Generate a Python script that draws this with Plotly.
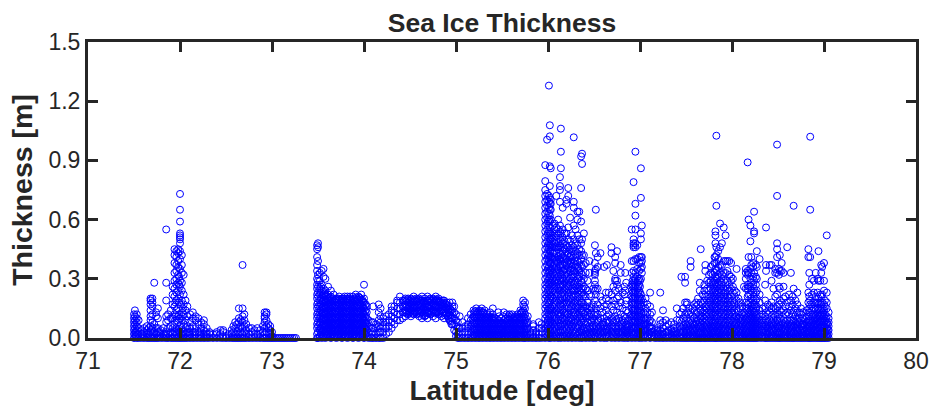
import plotly.graph_objects as go

# Readings: each row is (latitude, [thicknesses read at that latitude])
west_floe = [
(71.50,[.00,.02,.04,.06,.08,.10,.12]),(71.51,[.01,.03,.05,.07,.09,.11,.14]),(71.53,[.00,.02,.04,.06,.08,.10,.12]),
(71.55,[.00,.02,.05,.09]),(71.58,[.00,.02,.04]),(71.61,[.00,.03,.05]),(71.64,[.00,.02,.04,.06]),(71.66,[.00,.02,.05]),
(71.68,[.00,.03,.06,.09,.11,.14,.17,.19,.20]),(71.70,[.00,.02,.05,.08,.12,.16,.18,.20]),(71.72,[.00,.03,.07,.28]),
(71.74,[.00,.02,.05,.11,.13]),(71.76,[.00,.03,.05,.10,.15]),(71.79,[.00,.02,.04]),(71.82,[.00,.02,.05]),
(71.85,[.00,.03,.08,.11,.19,.28,.55]),(71.87,[.00,.02,.05,.09,.12]),(71.90,[.00,.03,.06,.10,.14]),(71.92,[.00,.02,.05,.10,.17,.22,.26]),
(71.94,[.00,.03,.07,.12,.16,.21,.25,.29,.33,.38,.42,.45]),(71.96,[.00,.02,.05,.09,.14,.19,.23,.27,.30,.34,.37,.41,.44]),
(71.98,[.00,.04,.08,.11,.15,.20,.24,.28,.32,.36,.39,.43,.45]),(72.00,[.00,.03,.06,.10,.17,.22,.26,.29,.35,.40,.44,.48,.50,.51,.52,.53,.59,.65,.73]),
(72.02,[.00,.02,.05,.09,.13,.19,.24,.28,.33,.37,.42]),(72.04,[.00,.03,.07,.12,.17,.22,.32]),(72.06,[.00,.02,.05,.09,.14,.19]),
(72.08,[.00,.03,.06,.11,.16]),(72.11,[.00,.02,.05,.08,.12]),(72.14,[.00,.03,.06,.10,.13]),(72.17,[.00,.02,.05,.09,.11]),
(72.20,[.00,.03,.07,.10]),(72.23,[.00,.02,.05,.08]),(72.26,[.00,.02,.04,.07,.09]),(72.29,[.00,.02,.05]),(72.32,[.00,.02,.03]),
(72.36,[.00,.02]),(72.40,[.00,.02,.03]),(72.44,[.00,.02,.04]),(72.47,[.00,.03,.04]),(72.50,[.00,.01]),(72.53,[.00,.02]),
(72.56,[.00,.02,.04]),(72.58,[.00,.03,.06]),(72.60,[.00,.02,.05,.08]),(72.62,[.00,.03,.07]),(72.64,[.00,.02,.05,.08,.10,.15]),
(72.66,[.00,.03,.06,.09]),(72.68,[.00,.02,.05,.08,.11,.15,.37]),(72.70,[.00,.03,.06,.09,.12]),(72.72,[.00,.02,.04,.07]),
(72.75,[.00,.02,.05]),(72.78,[.00,.03,.05]),(72.81,[.00,.02,.04]),(72.84,[.00,.02,.05]),(72.87,[.00,.02,.04]),(72.90,[.00,.03,.06]),
(72.92,[.00,.02,.05,.08,.10,.11,.13]),(72.94,[.00,.03,.06,.09,.12,.13]),(72.96,[.00,.02,.05,.07]),(72.98,[.00,.02,.04,.06]),
(73.00,[.00,.01,.03]),(73.02,[.00]),(73.04,[.00]),(73.06,[.00]),(73.08,[.00]),(73.10,[.00]),(73.12,[.00]),(73.14,[.00]),(73.16,[.00]),
(73.18,[.00]),(73.20,[.00]),(73.22,[.00]),(73.24,[.00]),(73.26,[.00]),
]

arch_floe = [
(73.49,[.00,.02,.05,.07,.10,.12,.15,.17,.20,.22,.25,.27,.30,.34,.37,.41,.45,.47]),
(73.50,[.00,.03,.06,.08,.11,.13,.16,.18,.21,.23,.26,.29,.32,.39,.46,.48]),
(73.52,[.01,.04,.07,.10,.13,.16,.19,.22,.25,.29,.33]),(73.54,[.00,.03,.06,.09,.12,.15,.18,.21,.24,.27,.34]),
(73.56,[.01,.04,.07,.10,.13,.16,.19,.22,.25,.31,.35]),(73.58,[.00,.03,.06,.09,.12,.15,.18,.21,.24,.30]),
(73.61,[.01,.04,.07,.10,.13,.16,.19,.22,.26]),(73.64,[.00,.03,.06,.09,.12,.15,.18,.21,.24]),(73.67,[.01,.04,.07,.10,.13,.16,.19,.22]),
(73.70,[.00,.03,.06,.09,.12,.15,.18,.20]),(73.73,[.01,.04,.07,.10,.13,.16,.19,.21]),(73.76,[.00,.03,.06,.09,.12,.15,.18,.20]),
(73.79,[.01,.04,.07,.10,.13,.16,.19,.21]),(73.82,[.00,.03,.06,.09,.12,.15,.18,.20,.21]),(73.85,[.01,.04,.07,.10,.13,.16,.19,.21]),
(73.88,[.00,.03,.06,.09,.12,.15,.18,.21]),(73.91,[.01,.04,.07,.10,.13,.16,.19,.22]),(73.94,[.00,.03,.06,.09,.12,.15,.18,.21]),
(73.97,[.01,.04,.07,.10,.13,.16,.19,.22]),(74.00,[.00,.03,.06,.09,.12,.15,.18,.20,.27]),(74.03,[.01,.04,.07,.10,.13,.16]),
(74.05,[.00,.03,.06,.09]),(74.08,[.00,.02,.05,.08]),(74.10,[.00,.03,.05,.08,.16]),(74.13,[.00,.02,.05,.07]),(74.16,[.00,.03,.06,.09,.13,.17]),
(74.18,[.00,.03,.05,.08,.11,.15]),(74.21,[.00,.03,.06,.08,.10]),(74.24,[.02,.05,.08,.11]),(74.27,[.03,.06,.09,.12]),(74.30,[.05,.08,.11,.14,.16]),
(74.33,[.07,.10,.13,.16]),(74.36,[.09,.12,.15,.18,.19]),(74.39,[.09,.12,.15,.18,.21]),(74.42,[.10,.13,.16,.19]),(74.45,[.11,.14,.17,.20]),
(74.48,[.12,.15,.18,.20]),(74.51,[.11,.14,.17,.20]),(74.54,[.12,.15,.18,.21]),(74.57,[.12,.15,.18,.20]),(74.60,[.11,.14,.17,.20]),
(74.63,[.10,.13,.16,.19,.21]),(74.66,[.11,.14,.17,.20]),(74.69,[.10,.13,.16,.19,.21]),(74.72,[.12,.15,.18,.20]),(74.75,[.11,.14,.17,.20]),
(74.78,[.10,.13,.16,.19,.21]),(74.81,[.12,.15,.18,.20]),(74.84,[.11,.14,.17,.19]),(74.87,[.10,.13,.16,.19]),(74.90,[.12,.15,.18]),
(74.93,[.09,.12,.15,.18]),(74.96,[.07,.10,.13,.16,.18]),(74.98,[.04,.07,.10,.13,.16]),(75.00,[.01,.03,.06,.09,.12]),
(75.02,[.00,.02,.05,.08]),(75.04,[.00,.03,.05,.11]),(75.07,[.00,.02,.05,.08]),(75.10,[.00,.03,.06]),(75.13,[.00,.02,.05,.07,.10]),
(75.16,[.00,.03,.06,.09,.12]),(75.19,[.00,.02,.05,.08,.11,.14]),(75.22,[.00,.03,.06,.09,.12,.15]),(75.25,[.00,.02,.05,.08,.11,.14]),
(75.28,[.00,.03,.06,.09,.12,.15]),(75.31,[.00,.02,.05,.08,.11,.14]),(75.34,[.00,.03,.06,.09,.12]),(75.37,[.00,.02,.05,.08,.11,.13]),
(75.40,[.00,.03,.06,.09,.12,.15]),(75.43,[.00,.02,.05,.08,.10]),(75.46,[.00,.03,.06,.09,.13]),(75.49,[.00,.02,.05,.07,.10]),
(75.52,[.00,.03,.06,.09,.13]),(75.55,[.00,.02,.05,.08,.12]),(75.58,[.00,.03,.06,.09,.12]),(75.61,[.00,.02,.05,.08,.12]),
(75.64,[.00,.03,.06,.09,.11]),(75.67,[.00,.02,.05,.08,.11,.12]),(75.70,[.00,.03,.06,.09,.12,.14]),(75.73,[.00,.02,.05,.08,.11,.14,.17,.19]),
(75.75,[.00,.03,.06,.09,.12,.15,.18]),(75.78,[.00,.02,.05,.08,.11]),(75.81,[.00,.02,.03]),(75.84,[.00,.02,.04,.06,.07]),
(75.87,[.00,.02,.03]),(75.90,[.00,.02,.05,.08]),(75.93,[.00,.03,.05,.07]),
]

central_ridge = [
(75.97,[.00,.02,.05,.07,.10,.12,.15,.17,.20,.22,.25,.27,.30,.33,.36,.39,.42,.45,.48,.51,.54,.57,.60,.63,.66,.69,.72,.75,.795,.876]),
(75.99,[.01,.03,.06,.08,.11,.13,.16,.18,.21,.23,.26,.28,.31,.34,.37,.40,.43,.46,.49,.52,.55,.58,.61,.64,.67,.70,.73,1.005]),
(76.01,[.00,.02,.05,.07,.10,.12,.15,.17,.20,.22,.25,.27,.30,.33,.36,.39,.42,.45,.48,.51,.54,.57,.60,.63,.66,.69,.72,1.279]),
(76.02,[.01,.04,.08,.11,.14,.18,.21,.24,.28,.31,.34,.38,.41,.44,.47,.50,.53,.56,.59,.62,.65,.68,.71,.77,.87,1.022,1.078]),
(76.03,[.00,.03,.06,.09,.12,.15,.19,.23,.26,.29,.32,.35,.38,.41,.44,.47,.50,.53,.60,.65,.68,.70,.86]),
(76.05,[.01,.04,.07,.10,.13,.16,.20,.24,.27,.30,.33,.36,.40,.43,.46,.49,.52,.57]),
(76.07,[.00,.03,.06,.09,.12,.15,.18,.22,.25,.28,.32,.35,.38,.41,.44,.48,.51,.55,.58]),
(76.09,[.01,.04,.07,.10,.14,.17,.20,.23,.26,.30,.33,.36,.39,.43,.46,.50,.53,.56,.72]),
(76.11,[.00,.03,.06,.09,.12,.15,.18,.22,.25,.28,.31,.35,.38,.41,.45,.48,.52,.55,.60]),
(76.13,[.01,.04,.07,.11,.14,.17,.20,.24,.27,.30,.33,.37,.40,.43,.47,.50,.54,.57,.69,.75,.77,.815]),
(76.14,[.00,.03,.06,.09,.12,.16,.19,.22,.26,.29,.32,.36,.39,.42,.46,.49,.53,.86,.944,1.061]),
(76.16,[.01,.04,.07,.10,.14,.17,.20,.23,.27,.30,.34,.37,.41,.44,.48,.51,.55,.66]),
(76.18,[.00,.03,.06,.09,.12,.15,.19,.22,.25,.28,.32,.35,.38,.42,.45,.49,.53]),
(76.20,[.01,.04,.07,.10,.13,.17,.20,.24,.27,.30,.33,.37,.40,.44,.47,.53,.68,.70]),
(76.22,[.00,.03,.06,.09,.12,.15,.19,.22,.26,.29,.32,.36,.39,.43,.46,.50,.56,.72,.76]),
(76.24,[.01,.04,.07,.10,.14,.17,.20,.23,.27,.30,.34,.38,.41,.45,.49,.61]),
(76.26,[.00,.03,.06,.09,.13,.16,.19,.22,.25,.29,.32,.36,.40,.44,.47,.52]),
(76.28,[.01,.04,.07,.11,.14,.17,.21,.24,.27,.31,.34,.38,.42,.46,.50,.57,.66,.69,1.017]),
(76.30,[.00,.03,.06,.09,.12,.16,.19,.22,.26,.29,.33,.37,.41,.44,.48,.55]),
(76.32,[.01,.05,.08,.11,.15,.18,.21,.25,.28,.32,.36,.39,.43,.47,.52,.60,.64]),
(76.34,[.00,.03,.07,.10,.13,.17,.20,.24,.27,.31,.34,.38,.42,.45,.50,.64]),
(76.36,[.01,.04,.08,.11,.15,.18,.22,.25,.29,.33,.37,.40,.44,.48,.59,.76,.92]),
(76.37,[.00,.03,.06,.10,.14,.18,.23,.28,.32,.36,.42,.50,.882,.934]),
(76.39,[.01,.04,.08,.12,.17,.22,.26,.30,.37,.42,.53]),
(76.41,[.00,.03,.07,.11,.16,.21,.25,.33,.38]),(76.43,[.01,.04,.08,.13,.18,.24,.29]),(76.45,[.00,.03,.06,.11,.16,.22,.33,.39]),
(76.47,[.01,.04,.08,.12,.15,.21]),(76.49,[.00,.03,.06,.10,.17,.25]),(76.51,[.01,.04,.08,.13,.19,.24,.27,.29,.32,.33,.34,.38,.47]),
(76.52,[.00,.03,.06,.11,.15,.22,.25,.35,.43,.65]),(76.54,[.01,.04,.08,.12,.17,.25,.36,.41]),(76.57,[.00,.03,.06,.10,.15,.21,.43]),
(76.59,[.01,.04,.07,.13,.19]),(76.61,[.00,.03,.06,.10,.16,.36]),(76.63,[.01,.04,.08,.14,.20,.23]),(76.64,[.00,.03,.06,.11,.17,.37]),
(76.66,[.01,.04,.08,.12,.19,.23]),(76.69,[.00,.03,.06,.10,.16,.22,.43,.46]),(76.71,[.01,.04,.08,.14,.19,.26,.34]),(76.73,[.00,.03,.06,.11,.17,.24,.29,.30,.38,.41]),
(76.75,[.01,.04,.08,.13,.20,.27,.29,.44]),(76.77,[.00,.03,.06,.10,.16,.21,.25]),(76.79,[.01,.04,.07,.12,.18,.37,.33]),(76.81,[.00,.03,.06,.09,.15,.23]),
(76.83,[.01,.04,.08,.11,.22,.26]),(76.84,[.00,.03,.06,.10,.17,.24,.33]),(76.85,[.01,.04,.07,.14,.19,.28]),(76.87,[.00,.03,.06,.09,.13]),
(76.89,[.01,.04,.07,.11]),(76.91,[.00,.03,.06,.09,.12,.15,.18,.21,.24,.27,.33,.39,.55]),
(76.93,[.01,.04,.07,.10,.13,.16,.19,.22,.25,.28,.31,.34,.39,.46,.47,.48,.50,.79]),
(76.95,[.00,.03,.06,.09,.12,.15,.18,.21,.24,.27,.30,.33,.40,.46,.48,.55,.62,.68,.944]),
(76.97,[.01,.04,.07,.10,.13,.16,.19,.22,.25,.28,.31,.35,.40,.47]),
(76.99,[.00,.03,.06,.09,.12,.15,.18,.21,.24,.27,.30,.34,.38,.41]),
(77.01,[.01,.04,.07,.10,.13,.16,.19,.22,.30,.35,.38,.41,.50,.53,.71,.86]),
(77.02,[.00,.03,.06,.09,.12,.16,.20,.33,.36,.39,.41,.57]),
(77.04,[.01,.04,.07,.10,.13,.18]),(77.06,[.00,.03,.06,.09,.12,.15,.20]),(77.08,[.01,.04,.07,.10,.13,.17]),
(77.11,[.00,.03,.06,.09,.12,.16,.23]),(77.13,[.01,.03,.05,.08,.13]),(77.16,[.00,.02,.04]),(77.19,[.00,.02,.04,.05]),
(77.22,[.00,.02,.04,.07,.09,.23]),(77.25,[.00,.02,.05,.08,.14]),(77.28,[.00,.03,.06,.09]),(77.31,[.00,.02,.04,.07]),
(77.34,[.00,.02,.04,.08]),(77.37,[.00,.03,.05,.07]),(77.40,[.00,.02,.05,.09,.15]),(77.43,[.00,.03,.06,.09,.12]),
(77.45,[.00,.02,.05,.08,.13,.31]),(77.47,[.00,.03,.06,.10,.15]),(77.49,[.00,.02,.05,.08,.12,.18,.28,.31]),(77.51,[.00,.03,.06,.10,.13,.17,.18]),
(77.53,[.00,.02,.05,.08,.12,.15]),(77.55,[.00,.03,.06,.09,.13,.36,.39]),(77.57,[.00,.02,.05,.08,.11,.15]),(77.59,[.00,.03,.06,.10,.14,.17]),
(77.61,[.00,.02,.05,.08,.12,.16,.18]),(77.63,[.00,.03,.06,.09,.13,.17,.20]),(77.65,[.00,.02,.05,.08,.11,.15,.24,.28]),(77.66,[.00,.03,.06,.10,.14,.18,.45]),
(77.68,[.00,.02,.05,.09,.13,.17,.22]),(77.70,[.00,.03,.06,.10,.14,.19,.24,.27]),(77.71,[.00,.02,.05,.08,.12,.16,.21,.34,.37]),
(77.73,[.00,.03,.06,.09,.13,.17,.21,.25,.29]),(77.75,[.00,.02,.05,.08,.12,.16,.20,.24,.28,.32]),(77.77,[.00,.03,.06,.09,.13,.17,.21,.25,.29,.33,.36]),
(77.79,[.00,.02,.05,.08,.12,.16,.20,.24,.28,.32,.37]),(77.81,[.00,.03,.06,.09,.13,.17,.21,.25,.29,.33,.38,.41]),
(77.82,[.00,.02,.05,.08,.12,.16,.20,.24,.28,.31,.35,.41,.48,.52,.54]),(77.83,[.00,.03,.06,.10,.14,.18,.22,.26,.30,.34,.38,.42,.46,.67,1.025]),
(77.85,[.00,.02,.05,.08,.12,.16,.20,.24,.28,.32,.36,.40,.44]),(77.87,[.00,.03,.06,.09,.13,.17,.21,.25,.29,.33,.37,.46,.58]),
(77.89,[.00,.02,.05,.08,.12,.16,.20,.24,.28,.32,.37,.48]),(77.91,[.00,.03,.06,.09,.13,.17,.21,.25,.29,.33,.39,.56]),
(77.93,[.00,.02,.05,.08,.12,.16,.20,.24,.28,.33,.39,.52]),(77.95,[.00,.03,.06,.09,.13,.17,.21,.25,.29,.34,.39]),
(77.97,[.00,.02,.05,.08,.12,.16,.20,.24,.27,.32,.39]),(77.99,[.00,.03,.06,.09,.13,.17,.21,.25,.29,.31,.38]),
(78.01,[.00,.02,.05,.08,.12,.16,.19,.23,.26,.30]),(78.03,[.00,.03,.06,.09,.13,.17,.21,.24]),(78.05,[.00,.02,.05,.08,.11,.15,.19,.23,.35]),
(78.07,[.00,.03,.06,.09,.13,.17,.20]),(78.09,[.00,.02,.05,.08,.11,.15,.18]),(78.11,[.00,.03,.06,.09,.12,.16]),(78.13,[.00,.02,.05,.08,.11,.13,.26]),
(78.15,[.00,.03,.06,.09,.12,.15,.18,.25,.30,.33,.35]),(78.17,[.00,.02,.05,.08,.11,.14,.17,.21,.25,.27,.32,.34,.89]),
(78.18,[.00,.03,.06,.09,.12,.15,.18,.22,.26,.33,.41,.60]),(78.20,[.00,.02,.05,.08,.11,.14,.18,.22,.26,.30,.35,.49,.57]),
(78.21,[.00,.03,.06,.09,.12,.16,.20,.24,.28,.33,.37,.41]),(78.23,[.00,.02,.05,.08,.11,.15,.19,.23,.27,.31,.36,.38]),
(78.24,[.00,.03,.06,.09,.13,.17,.21,.25,.29,.33,.53,.54,.64]),(78.26,[.00,.02,.05,.08,.11,.15,.19,.23,.27,.31,.37]),
(78.27,[.00,.03,.06,.09,.12,.16,.20,.24,.30,.36,.44]),(78.30,[.00,.02,.05,.08,.11,.14,.18,.22,.40]),(78.33,[.00,.03,.06,.09,.12,.15]),
(78.36,[.00,.02,.05,.08,.11,.15,.19,.27]),(78.37,[.00,.03,.06,.09,.13,.34,.37,.56]),(78.39,[.00,.02,.05,.08,.12,.17]),
(78.41,[.00,.03,.06,.09,.13,.16,.37]),(78.43,[.00,.02,.05,.08,.11,.15,.18,.29,.37]),(78.45,[.00,.03,.06,.09,.12,.16,.25]),
(78.47,[.00,.02,.05,.08,.11,.15,.21,.33,.35]),(78.49,[.00,.03,.06,.09,.12,.16,.22,.33,.41,.45,.48,.72,.98]),(78.51,[.00,.02,.05,.08,.12,.17,.26,.32,.35]),
(78.52,[.00,.03,.06,.10,.14,.19,.25,.34,.42]),(78.54,[.00,.02,.05,.08,.13,.18,.34,.38]),(78.56,[.00,.03,.06,.09,.14,.20,.26,.33]),
(78.58,[.00,.02,.05,.08,.12,.16,.21]),(78.60,[.00,.03,.06,.09,.13,.18,.46]),(78.62,[.00,.02,.05,.08,.12,.16,.22]),(78.64,[.00,.03,.06,.09,.14,.19,.33]),
(78.66,[.00,.02,.05,.08,.12,.17,.21]),(78.67,[.00,.03,.06,.09,.13,.25,.67]),(78.69,[.00,.02,.05,.08,.11,.15,.19]),(78.71,[.00,.03,.06,.09,.13,.17,.23]),
(78.73,[.00,.02,.05,.08,.10,.13]),(78.75,[.00,.03,.06,.09,.12,.15]),(78.77,[.00,.02,.05,.07,.10,.13]),(78.79,[.00,.03,.06,.09]),
(78.81,[.00,.02,.05,.08,.11,.14]),(78.83,[.00,.03,.06,.09,.13,.18,.23,.41,.45]),(78.84,[.00,.02,.05,.08,.11,.15,.21,.27,.33]),
(78.85,[.00,.03,.06,.09,.13,.17,.19,.41,.65,1.02]),(78.87,[.00,.02,.05,.08,.11,.14,.17,.22,.30]),(78.89,[.00,.03,.06,.09,.12,.15,.18,.23,.29]),
(78.91,[.00,.02,.05,.08,.11,.14,.18,.21,.33]),(78.93,[.00,.03,.06,.09,.12,.15,.18,.23,.30]),(78.94,[.00,.02,.05,.08,.11,.14,.17,.20,.29,.44]),
(78.96,[.00,.03,.06,.09,.12,.15,.18,.22,.29]),(78.97,[.00,.02,.05,.08,.11,.14,.17,.21,.33,.37]),(78.98,[.00,.03,.06,.09,.12,.15,.18,.22,.36]),
(79.00,[.00,.02,.05,.08,.11,.14,.17,.24,.29,.38]),(79.01,[.00,.03,.06,.09,.12,.16,.19]),(79.03,[.00,.02,.05,.08,.11,.15,.18,.23,.52]),
(79.05,[.00,.02,.04,.06,.08,.10,.13]),
]

# Further readings inside the solid blue areas
solid_areas = [
(73.53,[.02,.05,.08,.11,.14,.17,.20,.23,.26]),(73.60,[.02,.05,.08,.11,.14,.17,.20]),(73.66,[.02,.05,.08,.11,.14,.17,.20]),
(73.72,[.02,.05,.08,.11,.14,.17,.20]),(73.78,[.02,.05,.08,.11,.14,.17,.20]),(73.84,[.02,.05,.08,.11,.14,.17,.20]),
(73.90,[.02,.05,.08,.11,.14,.17,.20]),(73.96,[.02,.05,.08,.11,.14,.17,.20]),(74.02,[.02,.05,.08,.11,.14,.17]),
(73.55,[.01,.035,.065,.095,.125,.155,.185,.215]),(73.57,[.02,.05,.075,.105,.135,.165,.195,.225]),(73.59,[.01,.035,.065,.095,.125,.155,.185,.215]),
(73.62,[.02,.05,.075,.105,.135,.165,.195]),(73.63,[.01,.035,.065,.095,.125,.155,.185,.205]),(73.65,[.02,.05,.075,.105,.135,.165,.195]),
(73.68,[.01,.035,.065,.095,.125,.155,.185]),(73.69,[.02,.05,.075,.105,.135,.165,.195]),(73.71,[.01,.035,.065,.095,.125,.155,.185]),
(73.74,[.02,.05,.075,.105,.135,.165,.195]),(73.75,[.01,.035,.065,.095,.125,.155,.185]),(73.77,[.02,.05,.075,.105,.135,.165,.195]),
(73.80,[.01,.035,.065,.095,.125,.155,.185]),(73.81,[.02,.05,.075,.105,.135,.165,.195]),(73.83,[.01,.035,.065,.095,.125,.155,.185]),
(73.86,[.02,.05,.075,.105,.135,.165,.195]),(73.87,[.01,.035,.065,.095,.125,.155,.185]),(73.89,[.02,.05,.075,.105,.135,.165,.195]),
(73.92,[.01,.035,.065,.095,.125,.155,.185,.205]),(73.93,[.02,.05,.075,.105,.135,.165,.195]),(73.95,[.01,.035,.065,.095,.125,.155,.185,.205]),
(73.98,[.02,.05,.075,.105,.135,.165,.195]),(73.99,[.01,.035,.065,.095,.125,.155,.185]),(74.01,[.02,.05,.075,.105,.135,.165]),
(74.44,[.13,.16,.19]),(74.50,[.13,.16,.19]),(74.56,[.13,.16,.19]),(74.62,[.13,.16,.19]),(74.68,[.13,.16,.19]),(74.74,[.13,.16,.19]),(74.80,[.13,.16,.19]),(74.86,[.13,.16,.19]),
(74.46,[.125,.155,.185]),(74.47,[.135,.165,.195]),(74.49,[.125,.155,.185]),(74.52,[.135,.165,.195]),(74.53,[.125,.155,.185]),(74.55,[.135,.165,.195]),
(74.58,[.125,.155,.185]),(74.59,[.135,.165,.195]),(74.61,[.125,.155,.185]),(74.64,[.115,.145,.175]),(74.65,[.125,.155,.185]),(74.67,[.115,.145,.175]),
(74.70,[.125,.155,.185]),(74.71,[.135,.165,.195]),(74.73,[.125,.155,.185]),(74.76,[.135,.165,.195]),(74.77,[.125,.155,.185]),(74.79,[.135,.165,.195]),
(74.82,[.125,.155,.185]),(74.83,[.135,.165,.18]),(74.85,[.125,.155,.18]),(74.88,[.115,.145,.175]),(74.89,[.125,.155,.17]),(74.91,[.11,.14,.165]),(74.92,[.10,.13,.16]),(74.94,[.085,.115,.145]),(74.95,[.07,.10,.14]),
(75.18,[.01,.04,.07,.10]),(75.24,[.01,.04,.07,.10,.13]),(75.30,[.01,.04,.07,.10,.13]),(75.42,[.01,.04,.07,.10]),(75.54,[.01,.04,.07,.10]),(75.66,[.01,.04,.07,.10]),(75.72,[.01,.04,.07,.10,.13]),
(75.20,[.015,.045,.075,.105,.13]),(75.21,[.01,.04,.07,.10,.135]),(75.23,[.015,.045,.075,.105,.13]),(75.26,[.01,.04,.07,.10,.13]),(75.27,[.015,.045,.075,.105,.135]),(75.29,[.01,.04,.07,.10,.13]),
(75.32,[.015,.045,.075,.105]),(75.33,[.01,.04,.07,.10]),(75.35,[.015,.045,.075,.105]),(75.36,[.01,.04,.07,.10]),(75.38,[.015,.045,.075,.105]),(75.39,[.01,.04,.07,.10]),
(75.41,[.015,.045,.075,.105]),(75.44,[.01,.04,.07]),(75.45,[.015,.045,.075]),(75.47,[.01,.04,.07,.11]),(75.48,[.015,.045,.075]),(75.50,[.01,.04,.07]),(75.51,[.015,.045,.075,.11]),(75.53,[.01,.04,.07]),
(75.56,[.015,.045,.075,.10]),(75.57,[.01,.04,.07,.11]),(75.59,[.015,.045,.075,.10]),(75.60,[.01,.04,.07,.11]),(75.62,[.015,.045,.075,.10]),(75.63,[.01,.04,.07,.10]),(75.65,[.015,.045,.075,.10]),
(75.68,[.01,.04,.07,.10]),(75.69,[.015,.045,.075,.105]),(75.71,[.01,.04,.07,.10,.13]),(75.74,[.015,.045,.075,.105,.13,.16]),(75.76,[.01,.04,.07,.10]),(75.77,[.015,.045,.075]),
(76.00,[.04,.09,.14,.19,.24,.29,.35,.41,.47,.53,.59]),(76.04,[.02,.08,.14,.21,.28,.34,.40,.46,.51]),(76.08,[.02,.08,.13,.19,.24,.29,.34,.40,.46]),
(76.12,[.02,.08,.13,.19,.24,.29,.34,.40,.46]),(76.17,[.02,.08,.13,.18,.24,.29,.34,.40,.46]),(76.21,[.02,.08,.12,.18,.23,.28,.34,.38,.42]),
(76.25,[.02,.08,.12,.18,.24,.28,.34,.38,.42]),(76.29,[.02,.08,.13,.18,.24,.28,.34,.39]),(76.33,[.02,.06,.12,.16,.22,.26,.30,.35]),(76.38,[.02,.05,.09,.13,.16,.21,.25]),
(76.42,[.02,.05,.10,.15]),(76.46,[.02,.05,.09,.14]),(76.50,[.02,.05,.09,.12]),(76.55,[.02,.05,.09]),(76.60,[.02,.05,.08]),(76.65,[.02,.05,.09]),(76.70,[.02,.05,.09]),(76.74,[.02,.05,.09]),(76.80,[.02,.05,.08]),(76.86,[.02,.05]),
(76.92,[.02,.05,.08,.11,.14,.17,.20,.23,.26,.29]),(76.94,[.02,.05,.08,.11,.14,.17,.20,.23,.26,.29]),(76.98,[.02,.05,.08,.11,.14,.17,.20,.23,.26,.29]),(77.00,[.02,.05,.08,.11,.14,.17,.20,.23,.26,.29]),
(77.05,[.02,.05,.08]),(77.10,[.02,.05,.08]),(77.15,[.01,.03]),(77.20,[.01,.03]),(77.24,[.01,.03]),(77.30,[.01,.03]),(77.35,[.01,.03]),(77.39,[.01,.03]),(77.44,[.01,.04]),(77.50,[.01,.04,.07]),(77.54,[.01,.04,.07]),(77.58,[.01,.04,.07]),
(77.62,[.01,.04,.07,.10]),(77.67,[.01,.04,.07,.11]),(77.72,[.01,.04,.07,.11,.15]),(77.76,[.01,.04,.07,.11,.15,.19]),(77.80,[.01,.04,.07,.11,.15,.19,.23,.27]),(77.84,[.01,.04,.07,.11,.15,.19,.23,.27,.31]),(77.88,[.01,.04,.07,.11,.15,.19,.23,.27]),
(77.92,[.01,.04,.07,.11,.15,.19,.23]),(77.96,[.01,.04,.07,.11,.15,.19]),(78.00,[.01,.04,.07,.11,.15]),(78.04,[.01,.04,.07,.11]),(78.08,[.01,.04,.07,.10]),(78.12,[.01,.04,.07]),(78.16,[.01,.04,.07,.10]),(78.19,[.01,.04,.07,.10,.13]),
(78.22,[.01,.04,.07,.10,.13,.17]),(78.25,[.01,.04,.07,.10,.13,.17]),(78.28,[.01,.04,.07,.10]),(78.32,[.01,.04,.07]),(78.35,[.01,.04,.07]),(78.40,[.01,.04,.07]),(78.44,[.01,.04,.07]),(78.48,[.01,.04,.07]),(78.53,[.01,.04,.07]),(78.57,[.01,.04,.07]),
(78.61,[.01,.04,.07]),(78.65,[.01,.04,.07]),(78.70,[.01,.04,.07]),(78.74,[.01,.04,.07]),(78.78,[.01,.04,.07]),(78.82,[.01,.04,.07]),(78.86,[.01,.04,.07]),(78.90,[.01,.04,.07,.10]),(78.92,[.01,.04,.07,.10]),(78.95,[.01,.04,.07,.10,.13]),(78.99,[.01,.04,.07,.10,.13]),(79.02,[.01,.04,.07,.10]),(79.04,[.01,.04,.07]),
(71.52,[.01,.03]),(71.60,[.01,.02]),(71.69,[.01,.04]),(71.78,[.01,.03]),(71.84,[.01,.02]),(71.95,[.01,.03,.11,.18]),(71.99,[.01,.03,.12,.18,.27,.31]),(72.03,[.01,.03,.11,.15]),(72.10,[.01,.03]),(72.16,[.01,.03]),(72.22,[.01,.03]),(72.28,[.01,.03]),
]

lat_ticks = [71, 72, 73, 74, 75, 76, 77, 78, 79, 80]
thick_ticks = [0.0, 0.3, 0.6, 0.9, 1.2, 1.5]
thick_labels = ["0.0", "0.3", "0.6", "0.9", "1.2", "1.5"]

latitude = []
thickness = []
for rows in (west_floe, arch_floe, central_ridge, solid_areas):
    for lat, values in rows:
        for v in values:
            latitude.append(lat)
            thickness.append(v)

INK = "#262626"
fig = go.Figure(go.Scatter(
    x=latitude, y=thickness, mode="markers", cliponaxis=False,
    marker=dict(symbol="circle-open", size=7, color="#0000ff", line=dict(width=1, color="#0000ff")),
))
axis = dict(showgrid=False, zeroline=False, showline=True, linecolor=INK, linewidth=3, automargin=False,
            mirror="ticks", ticks="inside", ticklen=10, tickwidth=3, tickcolor=INK,
            tickfont=dict(family="Liberation Sans", size=23, color=INK))
fig.update_layout(
    width=929, height=406, paper_bgcolor="white", plot_bgcolor="white", showlegend=False,
    margin=dict(l=88, r=13, t=42, b=68),
    title=dict(text="<b>Sea Ice Thickness</b>", x=0.5, xref="paper", xanchor="center", y=0.945, yanchor="middle",
               font=dict(family="Liberation Sans", size=26.5, color=INK)),
)
fig.update_xaxes(range=[71, 80], tickvals=lat_ticks, **axis,
                 title=dict(text="<b>Latitude [deg]</b>", standoff=8,
                            font=dict(family="Liberation Sans", size=28, color=INK)))
fig.update_yaxes(range=[0, 1.5], tickvals=thick_ticks, ticktext=thick_labels, **axis,
                 title=dict(text="<b>Thickness [m]</b>", standoff=8,
                            font=dict(family="Liberation Sans", size=28.5, color=INK)))
fig.write_html("out.html", config=dict(displayModeBar=False), post_script="document.body.style.margin='0';")
